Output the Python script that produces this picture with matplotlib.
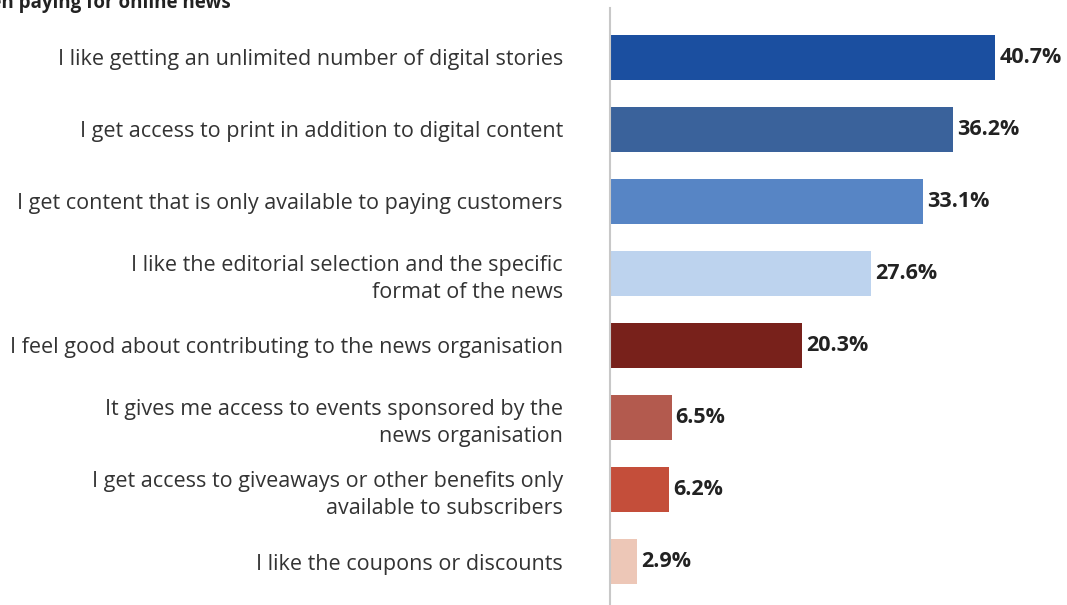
import matplotlib.pyplot as plt

labels = ['I like getting an unlimited number of digital stories',
          'I get access to print in addition to digital content',
          'I get content that is only available to paying customers',
          'I like the editorial selection and the specific\nformat of the news',
          'I feel good about contributing to the news organisation',
          'It gives me access to events sponsored by the\nnews organisation',
          'I get access to giveaways or other benefits only\navailable to subscribers',
          'I like the coupons or discounts']
values = [40.7, 36.2, 33.1, 27.6, 20.3, 6.5, 6.2, 2.9]
colours = ['#1b4fa0', '#3a629b', '#5785c5', '#bdd3ee',
           '#78211b', '#b35a4e', '#c44e3a', '#edc7b7']

plt.rcParams['font.family'] = ['Open Sans', 'DejaVu Sans']

fig = plt.figure(figsize=(10.67, 6.05), dpi=100)
ax = fig.add_axes([0.5717, 0.0, 0.4, 0.987])

pos = range(len(values))
ax.barh(pos, values, height=0.625, color=colours)
for p, v in zip(pos, values):
    ax.annotate('%.1f%%' % v, (v, p), xytext=(3, 0), textcoords='offset points',
                va='center', ha='left', fontsize=15.5, fontweight='bold', color='#222222')

ax.set_xlim(0, 45.1)
ax.set_ylim(7.604, -0.6875)
ax.set_yticks(list(pos))
ax.set_yticklabels(labels, fontsize=15.5, color='#333333', linespacing=1.35)
ax.tick_params(axis='y', length=0, pad=34)
ax.set_xticks([])
for s in ['top', 'right', 'bottom']:
    ax.spines[s].set_visible(False)
ax.spines['left'].set_color('#c8c8c8')
ax.spines['left'].set_linewidth(1.5)

fig.text(0.216, 0.979, 'Main reasons when paying for online news', ha='right', va='bottom',
         fontsize=13.5, fontweight='bold', color='#222222')

fig.savefig('out.png', dpi=100)
